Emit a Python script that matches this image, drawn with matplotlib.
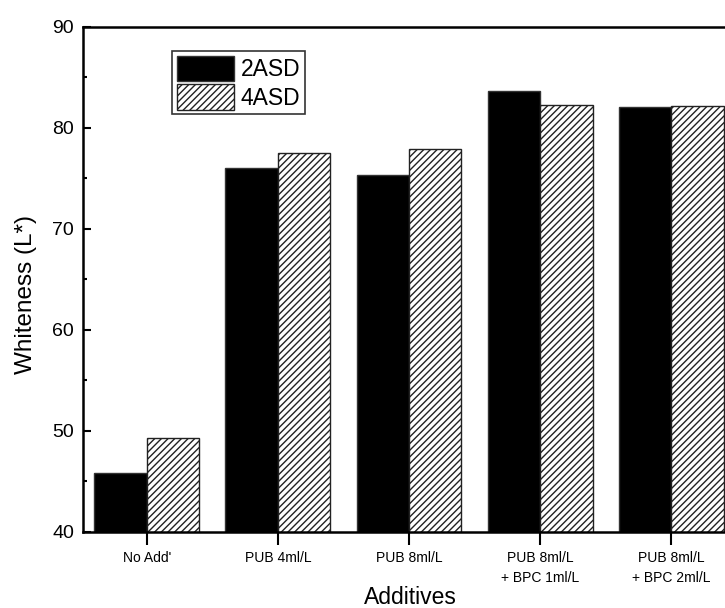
import numpy as np
import matplotlib.pyplot as plt

plt.rcParams['font.family'] = ['Liberation Sans', 'DejaVu Sans']
plt.rcParams['hatch.linewidth'] = 1.0

# Data
categories = ["No Add'", "PUB 4ml/L", "PUB 8ml/L",
              "PUB 8ml/L\n+ BPC 1ml/L", "PUB 8ml/L\n+ BPC 2ml/L"]
asd2 = [45.8, 76.0, 75.3, 83.6, 82.0]
asd4 = [49.3, 77.5, 77.9, 82.2, 82.1]

x = np.arange(len(categories))
w = 0.4

fig = plt.figure(figsize=(7.25, 6.08), dpi=100)
ax = fig.add_axes([82.5 / 725, 76 / 608, 653 / 725, 505.5 / 608])

ax.bar(x - w / 2, asd2, w, color='black', edgecolor='#333333',
       linewidth=1, label='2ASD')
ax.bar(x + w / 2, asd4, w, color='white', edgecolor='#222222',
       hatch='/////', linewidth=1, label='4ASD')

ax.set_xlim(-0.49, 4.49)
ax.set_ylim(40, 90)
ax.set_yticks([40, 50, 60, 70, 80, 90])
ax.set_yticks(np.arange(45, 90, 10), minor=True)
ax.set_xticks(x)
ax.set_xticklabels(categories, fontsize=10, multialignment='center',
                   linespacing=1.5)

ax.tick_params(axis='y', which='major', direction='in', length=6, width=1.5,
               labelsize=14, pad=6)
ax.tick_params(axis='y', which='minor', direction='in', length=3, width=1.5)
ax.tick_params(axis='x', direction='out', length=9, width=1.5, pad=5)

for s in ax.spines.values():
    s.set_linewidth(1.8)

fig.text(26 / 725, 1 - 295 / 608, 'Whiteness (L*)', fontsize=17.5,
         rotation=90, ha='center', va='center')
fig.text(410 / 725, 1 - 597 / 608, 'Additives', fontsize=16.5,
         ha='center', va='center')

leg = ax.legend(loc='upper left', bbox_to_anchor=(172 / 725, 1 - 51 / 608),
                bbox_transform=fig.transFigure, fontsize=16.5, frameon=True,
                fancybox=False, edgecolor='black', handlelength=2.5,
                handleheight=1.35, handletextpad=0.3, borderpad=0.2,
                labelspacing=0.12, borderaxespad=0)
leg.get_frame().set_linewidth(1.2)

fig.savefig('out.png', dpi=100)
